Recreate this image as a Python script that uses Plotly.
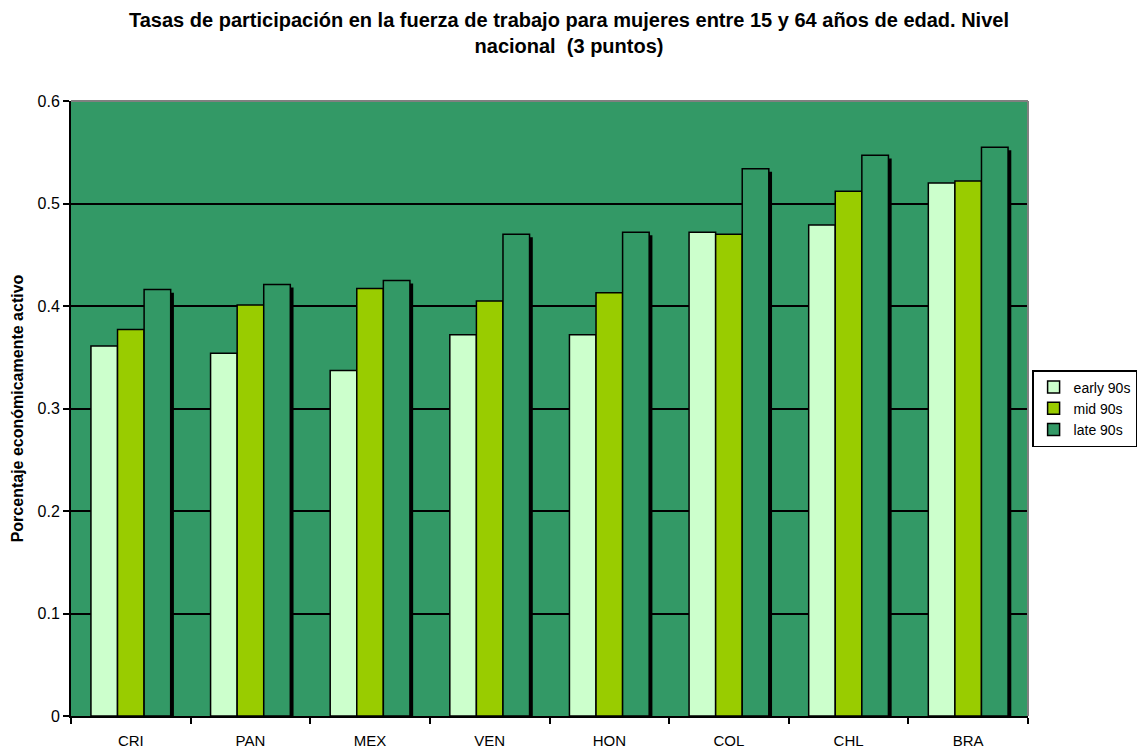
import plotly.graph_objects as go

paises = ["CRI", "PAN", "MEX", "VEN", "HON", "COL", "CHL", "BRA"]
early_90s = [0.361, 0.354, 0.337, 0.372, 0.372, 0.472, 0.479, 0.520]
mid_90s = [0.377, 0.401, 0.417, 0.405, 0.413, 0.470, 0.512, 0.522]
late_90s = [0.416, 0.421, 0.425, 0.470, 0.472, 0.534, 0.547, 0.555]

series = [
	("early 90s", early_90s, "#CCFFCC"),
	("mid 90s", mid_90s, "#99CC00"),
	("late 90s", late_90s, "#339966"),
]

w = 0.2222
offsets = [-1.5 * w, -0.5 * w, 0.5 * w]
shadow_dx = 0.027
shadow_dy = 0.003

fig = go.Figure()
# sombras (estilo Excel)
for (name, vals, color), off in zip(series, offsets):
	fig.add_trace(go.Bar(x=paises, y=[v - shadow_dy for v in vals], width=w, offset=off + shadow_dx,
						 marker=dict(color="black", line=dict(width=0)), showlegend=False, hoverinfo="skip"))
for (name, vals, color), off in zip(series, offsets):
	fig.add_trace(go.Bar(x=paises, y=vals, name=name, width=w, offset=off,
						 marker=dict(color=color, line=dict(color="black", width=1.5))))

fig.update_layout(
	barmode="overlay",
	width=1138, height=756,
	paper_bgcolor="white", plot_bgcolor="#339966",
	font=dict(family="Arial, Liberation Sans, sans-serif", size=15, color="black"),
	title=dict(text="<b>Tasas de participación en la fuerza de trabajo para mujeres entre 15 y 64 años de edad. Nivel<br>nacional  (3 puntos)</b>",
			   x=0.5, xanchor="center", y=0.964, yanchor="middle", font=dict(size=20)),
	margin=dict(l=71, r=110, t=101, b=40, autoexpand=False),
	legend=dict(x=1.114, xanchor="right", y=0.5, yanchor="middle", bordercolor="black", borderwidth=1.5,
				bgcolor="white", font=dict(size=14), tracegroupgap=0, itemwidth=30),
	xaxis=dict(showgrid=False, ticks="outside", tickson="boundaries", ticklen=6, tickwidth=2,
			   tickcolor="black", showline=True, linecolor="black", linewidth=2, mirror=False,
			   range=[-0.5, 7.5], tickfont=dict(size=15), ticklabelstandoff=10),
	yaxis=dict(range=[0, 0.6], dtick=0.1, showgrid=True, gridcolor="black", gridwidth=1.5,
			   ticks="outside", ticklen=6, tickwidth=2, tickcolor="black", showline=True,
			   linecolor="black", linewidth=2, zeroline=False, tickfont=dict(size=16),
			   title=dict(text="<b>Porcentaje económicamente activo</b>", font=dict(size=16), standoff=10)),
)
# borde gris superior/derecho
fig.add_shape(type="line", xref="paper", yref="paper", x0=0, x1=1, y0=1, y1=1, line=dict(color="gray", width=2))
fig.add_shape(type="line", xref="paper", yref="paper", x0=1, x1=1, y0=0, y1=1, line=dict(color="gray", width=2))

fig.write_html("out.html", config={"displayModeBar": False},
			   post_script="document.body.style.margin='0';")
